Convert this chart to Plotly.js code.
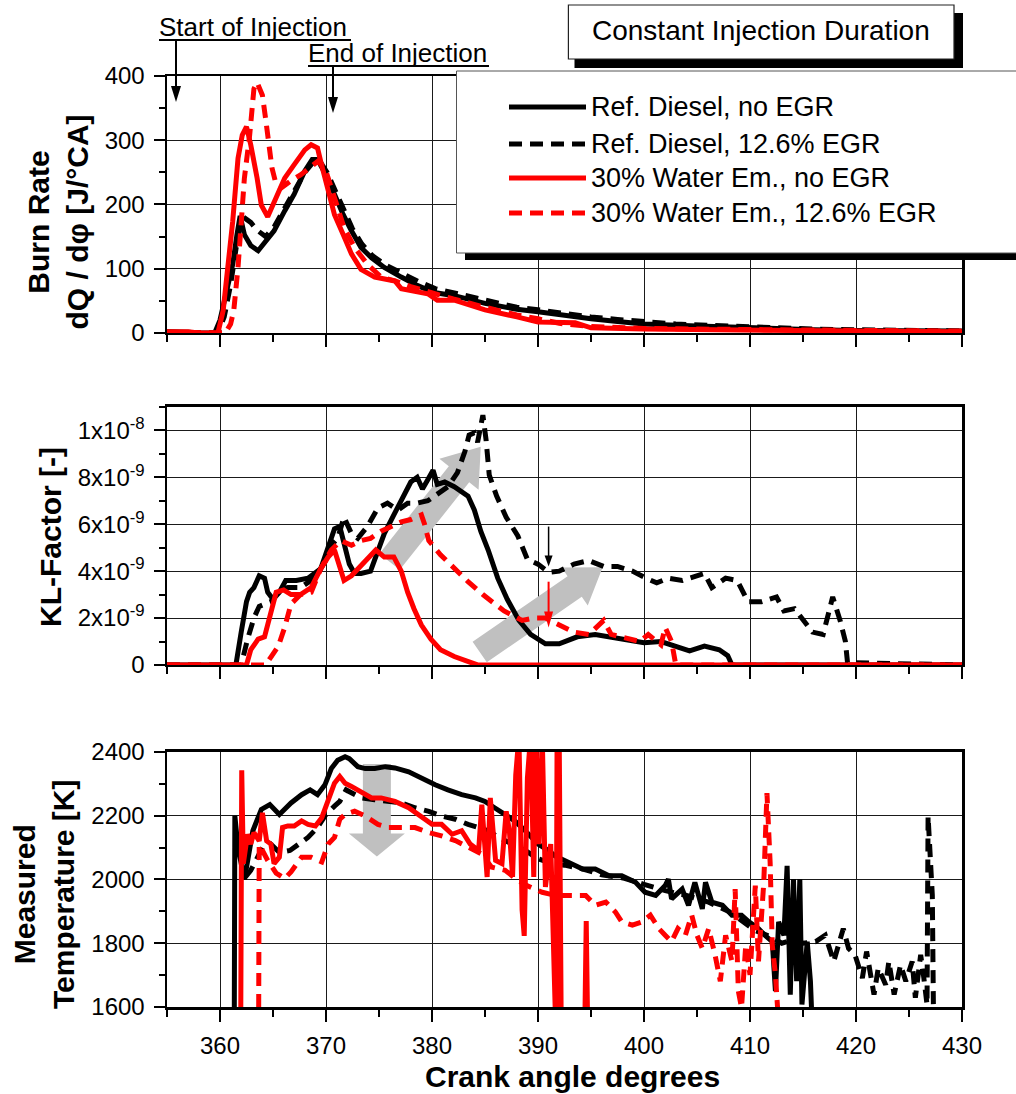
<!DOCTYPE html>
<html>
<head>
<meta charset="utf-8">
<script src="https://cdn.plot.ly/plotly-3.0.1.min.js"></script>
<style>html,body{margin:0;padding:0;background:#fff}</style>
</head>
<body>
<div id="chart" style="width:1016px;height:1094px"></div>
<script>
// ---------------- DATA ----------------
const seriesNames = ["Ref. Diesel, no EGR", "Ref. Diesel, 12.6% EGR", "30% Water Em., no EGR", "30% Water Em., 12.6% EGR"];

// Burn rate [J/°CA]
const brX_refNoEgr = [355,356,357,358,359.5,360.0,360.6,361.2,361.6,361.9,362.3,362.9,363.6,364.3,365.1,366.1,367.0,368.0,368.7,369.2,370.0,370.8,371.6,372.4,373.3,374.3,375.5,377.1,378.6,380.2,382.1,385,388,390,392.5,395,397.5,400,405,410,416,420,425,430];
const brY_refNoEgr = [2,2,1,0,0,20,61,107,153,182,153,136,128,143,159,190,216,252,270,270,246,216,185,159,133,117,102,87,74,63,58,46,37,33,27,22,18,14,11,8,5,4,3,3];
const brX_refEgr = [355,357,359.8,360.4,361.0,361.5,361.9,362.4,362.9,363.5,364.3,365.1,366.1,367.0,368.0,368.8,369.4,370.1,370.9,371.7,372.5,373.4,374.4,375.6,377.2,378.7,380.3,382.1,385,388,390,392.5,395,397.5,400,403,406,410,413,416,420,425,430];
const brY_refEgr = [1,1,0,25,75,130,170,178,172,160,150,165,195,222,250,266,268,250,220,190,162,138,120,106,92,80,69,62,50,40,36,30,25,21,17,14,12,9,8,6,5,4,3];
const brX_waterNoEgr = [355,357,358,359.8,360.3,360.6,361.2,361.7,362.1,362.5,362.9,363.5,363.9,364.5,365.1,366.1,367.0,368.0,368.6,369.2,369.5,370.2,370.8,371.6,372.4,373.3,374.6,376.5,377.1,379.6,380.5,382.1,385,388,390,393.5,395,400,410,420,430];
const brY_waterNoEgr = [2,2,0,0,35,81,174,272,308,321,293,241,199,181,204,241,262,285,293,288,267,226,184,154,123,99,87,81,69,61,51,51,36,25,17,16,8,6,4,3,2];
const brX_waterEgr = [355,357,360.5,361.0,361.3,361.7,362.0,362.3,362.8,363.2,363.5,364.0,364.3,364.6,364.9,365.3,365.8,366.7,367.6,368.6,369.2,369.9,370.5,371.1,371.7,372.7,373.9,375.2,376.5,378,380,382,385,388,390,392,395,400,405,410,420,430];
const brY_waterEgr = [1,0,0,14,35,102,164,241,308,380,390,370,334,298,257,231,226,237,246,259,267,257,226,195,164,133,107,87,81,72,62,53,40,28,22,15,10,7,6,5,4,3];

// KL-Factor [-]
const klX_refNoEgr = [355,361.5,362.0,362.5,362.8,363.2,363.7,364.2,364.5,365.0,365.6,366.2,367.2,368.3,369.5,370.2,370.8,371.3,371.7,372.2,372.7,373.3,374.2,374.9,375.5,376.4,377.4,378.0,378.6,379.1,379.6,380.1,380.5,381.2,382.1,382.7,383.4,384.0,384.6,385.3,386.2,387.1,388.2,389.3,390.7,392.0,393.7,395.4,397.2,398.9,400,401.6,403.0,404.3,405.7,407.1,407.9,408.3,430];
const klY_refNoEgr = [0,0,1.4e-9,2.7e-9,3.1e-9,3.3e-9,3.8e-9,3.7e-9,3.1e-9,2.8e-9,3.1e-9,3.6e-9,3.6e-9,3.7e-9,4.1e-9,5.0e-9,5.8e-9,5.9e-9,5.1e-9,4.3e-9,3.9e-9,3.9e-9,4.0e-9,4.9e-9,5.6e-9,6.4e-9,7.3e-9,7.8e-9,8.0e-9,7.5e-9,7.9e-9,8.3e-9,7.7e-9,7.8e-9,7.6e-9,7.4e-9,7.2e-9,6.6e-9,5.7e-9,4.9e-9,3.7e-9,2.8e-9,1.9e-9,1.3e-9,0.9e-9,0.9e-9,1.2e-9,1.3e-9,1.15e-9,1.0e-9,0.95e-9,1.0e-9,0.8e-9,0.6e-9,0.8e-9,0.65e-9,0.4e-9,0,0];
const klX_refEgr = [355,362.0,362.6,363.2,363.7,364.2,364.8,365.6,366.4,367.6,368.9,369.9,370.5,371.1,371.7,372.4,373.0,373.9,374.9,375.8,376.8,377.7,378.6,379.6,380.5,381.5,382.4,383.1,383.5,384.0,384.3,384.8,385.1,385.4,386.1,387.0,388.1,389.0,390.0,391.0,392.0,393.4,394.8,396.2,397.5,398.9,400.2,401.2,402.3,403.6,405.7,406.4,407.7,408.8,409.8,411.1,412.5,413.2,414.2,414.9,415.9,416.9,417.8,418.5,419.0,419.2,430];
const klY_refEgr = [0,0,1.1e-9,2.0e-9,2.5e-9,2.6e-9,2.7e-9,3.2e-9,3.3e-9,3.3e-9,3.7e-9,4.4e-9,5.1e-9,5.4e-9,6.3e-9,5.6e-9,5.4e-9,5.9e-9,6.7e-9,6.9e-9,6.6e-9,6.9e-9,6.9e-9,7.0e-9,7.3e-9,7.6e-9,8.2e-9,9.1e-9,9.8e-9,9.9e-9,9.5e-9,10.65e-9,9.6e-9,8.1e-9,7.2e-9,6.3e-9,5.5e-9,4.5e-9,4.3e-9,3.95e-9,4.0e-9,4.3e-9,4.45e-9,4.2e-9,4.2e-9,4.0e-9,3.7e-9,3.5e-9,3.7e-9,3.6e-9,3.9e-9,3.3e-9,3.7e-9,3.6e-9,2.7e-9,2.7e-9,2.9e-9,2.3e-9,2.4e-9,2.0e-9,1.4e-9,1.3e-9,2.9e-9,1.9e-9,1.0e-9,0.1e-9,0];
const klX_waterNoEgr = [355,362.5,362.9,363.6,364.2,364.8,365.3,366.0,366.7,367.6,368.6,369.5,370.2,370.8,371.3,371.7,372.4,373.0,373.9,374.7,375.5,376.4,377.1,377.7,378.3,379.0,379.9,380.8,382.1,383.4,384.3,430];
const klY_waterNoEgr = [0,0,0.65e-9,1.1e-9,1.2e-9,2.2e-9,3.1e-9,3.2e-9,3.0e-9,3.0e-9,3.3e-9,4.1e-9,4.6e-9,4.9e-9,4.1e-9,3.6e-9,3.8e-9,4.1e-9,4.5e-9,4.9e-9,4.6e-9,4.6e-9,4.0e-9,3.1e-9,2.4e-9,1.7e-9,1.1e-9,0.65e-9,0.36e-9,0.15e-9,0,0];
const klX_waterEgr = [355,364.3,364.9,365.5,366.1,366.7,367.6,368.6,369.5,370.5,371.4,372.4,373.3,374.2,375.2,376.1,377.1,378.0,379.0,379.3,379.7,380.8,382.1,383.4,384.8,386.8,388.5,389.6,390.7,392.0,393.4,394.8,396.2,396.9,398.2,399.6,400.4,401.6,402.0,402.6,403.0,430];
const klY_waterEgr = [0,0,0.4e-9,0.8e-9,1.6e-9,2.6e-9,3.0e-9,3.1e-9,4.1e-9,4.9e-9,5.3e-9,5.1e-9,5.3e-9,5.4e-9,5.7e-9,5.9e-9,6.1e-9,6.2e-9,6.4e-9,6.0e-9,5.3e-9,4.7e-9,4.1e-9,3.55e-9,3.0e-9,2.3e-9,1.9e-9,2.0e-9,2.0e-9,1.7e-9,1.4e-9,1.3e-9,1.9e-9,1.3e-9,1.15e-9,1.0e-9,1.3e-9,0.86e-9,1.6e-9,1.0e-9,0,0];

// Measured temperature [K]
const tX_refNoEgr = [361.35,361.4,361.7,362.3,363.1,363.9,364.7,365.6,366.7,367.7,368.5,369.2,369.9,370.5,371.1,371.8,372.2,373.0,373.7,374.6,375.6,376.5,377.8,379.0,380.3,381.5,382.8,384.1,385.0,385.9,386.9,387.8,388.8,390.0,391.0,391.6,392.9,394.2,395.4,396.7,397.9,399.2,400.1,401.1,402.0,402.3,402.6,403.6,404.2,404.8,405.5,405.8,406.4,407.4,408.3,409.2,409.9,410.8,411.4,412.1,412.4,412.7,413.2,413.5,413.8,414.1,414.4,414.7,414.9,415.4,415.7,415.8];
const tY_refNoEgr = [1600,2200,2100,2000,2153,2220,2235,2204,2240,2266,2281,2266,2297,2348,2374,2385,2379,2354,2348,2348,2354,2350,2338,2318,2297,2281,2266,2256,2245,2225,2204,2184,2153,2111,2091,2074,2053,2033,2033,2012,2012,1991,1960,1950,1981,2001,1939,1970,1919,1991,1908,1991,1929,1919,1888,1888,1867,1846,1825,1805,1650,1867,1825,2043,1639,2001,1681,2001,1608,1805,1681,1598];
const tX_refEgr = [362.4,362.9,363.4,364.0,364.8,365.6,366.6,367.4,368.3,369.2,370.0,370.8,371.3,371.9,372.4,373.3,374.6,375.9,377.1,378.4,379.7,380.9,382.2,383.4,384.7,385.3,386.3,387.5,388.8,390.0,391.3,392.5,394,396,398,400,402,404,406,408,410.5,412,413,414,415,416.2,417.1,417.9,418.8,419.3,419.9,420.6,421.0,421.7,422.1,422.8,423.1,423.6,424.2,424.7,425.3,425.6,426.1,426.4,426.7,426.8,427.2,427.3];
const tY_refEgr = [2008,2029,2060,2101,2111,2085,2091,2111,2132,2163,2204,2230,2245,2281,2271,2256,2250,2245,2240,2225,2214,2199,2189,2173,2158,2153,2132,2111,2091,2065,2050,2045,2035,2015,2005,1985,1965,1950,1930,1900,1840,1820,1800,1810,1800,1805,1825,1743,1846,1784,1764,1691,1774,1639,1722,1670,1743,1639,1732,1681,1743,1629,1764,1691,1608,2198,1950,1608];
const tX_waterNoEgr = [361.95,362.05,362.2,362.6,362.9,363.2,363.7,364.0,364.4,364.8,365.1,365.6,365.9,366.4,367.0,367.7,368.3,369.0,369.6,370.2,370.8,371.3,371.8,372.4,373.3,374.3,375.2,376.5,377.8,379.0,380.0,380.9,381.9,382.8,383.6,384.4,384.7,385.2,385.5,386.0,386.6,387.0,387.3,387.6,387.9,388.2,388.5,388.7,389.0,389.3,389.6,389.8,390.1,390.4,390.7,391.2,391.5,391.7,391.8,392.0,392.2,393,394.4,394.55,394.7,396];
const tY_waterNoEgr = [1500,2343,2050,2142,2111,2147,2121,2209,2121,2111,2050,2070,2163,2168,2168,2184,2173,2168,2194,2245,2302,2323,2302,2292,2276,2256,2256,2245,2225,2199,2173,2173,2142,2153,2111,2091,2235,2008,2256,2060,2050,2214,2153,2008,2328,2450,1905,1823,2318,2450,2008,2450,2111,2450,1977,2111,1700,1500,2450,2450,1500,1500,1500,1870,1500,1500];
const tX_waterEgr = [363.65,363.7,364.5,365.3,366.1,366.7,367.7,368.6,369.6,370.2,370.8,371.3,371.8,372.7,373.7,374.9,375.9,377.1,378.4,379.7,380.9,382.2,383.4,384.7,385.6,386.9,388,389,390.4,391.6,392.9,394.5,395.4,396.4,397.3,397.9,398.9,399.8,400.6,401.4,402.0,402.6,403.2,403.9,404.5,405.0,405.5,406.1,406.7,407.2,407.7,408.3,408.6,408.9,409.2,409.6,410.0,410.5,410.8,411.3,411.6,411.9,412.1,412.4,412.6];
const tY_waterEgr = [1600,2110,2060,2020,2003,2024,2070,2070,2055,2111,2132,2189,2204,2214,2199,2173,2163,2163,2163,2147,2137,2122,2101,2080,2039,2029,2000,1980,1960,1950,1950,1950,1919,1929,1898,1867,1857,1867,1888,1846,1825,1805,1846,1825,1888,1825,1784,1846,1764,1681,1825,1743,1970,1650,1598,1795,1701,1981,1743,1991,2271,2053,1795,1701,1598];

// Axis tick labels
const xTickVals = [360,370,380,390,400,410,420,430];
const xTickText = ["360","370","380","390","400","410","420","430"];
const klTickVals = [0,2e-9,4e-9,6e-9,8e-9,1e-8];
const klTickText = ["0","2x10<sup>-9</sup>","4x10<sup>-9</sup>","6x10<sup>-9</sup>","8x10<sup>-9</sup>","1x10<sup>-8</sup>"];

// ---------------- LAYOUT GEOMETRY ----------------
const FONT = "Liberation Sans, Arial, Helvetica, sans-serif";
const W = 1016, H = 1094, ML = 167, MR = 54, MT = 76, MB = 87;
const PW = W - ML - MR, PH = H - MT - MB;
const X_RANGE = [355, 430];
const Y1_RANGE = [0, 400], Y2_RANGE = [0, 1.1e-8], Y3_RANGE = [1600, 2400];
const DOM1 = [0.724, 1], DOM2 = [0.3674, 0.6445], DOM3 = [0, 0.2739];

const xToPx = d => ML + (d - X_RANGE[0]) / (X_RANGE[1] - X_RANGE[0]) * PW;
const pxToX = p => X_RANGE[0] + (p - ML) / PW * (X_RANGE[1] - X_RANGE[0]);
function yBounds(dom){ return [MT + (1 - dom[1]) * PH, MT + (1 - dom[0]) * PH]; }
function yToPx(v, dom, rng){ const [t,b] = yBounds(dom); return b - (v - rng[0]) / (rng[1] - rng[0]) * (b - t); }
function pxToY(p, dom, rng){ const [t,b] = yBounds(dom); return rng[0] + (b - p) / (b - t) * (rng[1] - rng[0]); }
const pX = px => (px - ML) / PW;
const pY = py => (H - MB - py) / PH;

function blockArrow(tail, tip, dom, rng, bw, hw, hl, xref, yref){
  const t = [xToPx(tail[0]), yToPx(tail[1], dom, rng)];
  const h = [xToPx(tip[0]), yToPx(tip[1], dom, rng)];
  const dx = h[0]-t[0], dy = h[1]-t[1], len = Math.hypot(dx, dy);
  const ux = dx/len, uy = dy/len, nx = -uy, ny = ux;
  const b = [h[0]-ux*hl, h[1]-uy*hl];
  const pts = [[t[0]+nx*bw,t[1]+ny*bw],[b[0]+nx*bw,b[1]+ny*bw],[b[0]+nx*hw,b[1]+ny*hw],h,
               [b[0]-nx*hw,b[1]-ny*hw],[b[0]-nx*bw,b[1]-ny*bw],[t[0]-nx*bw,t[1]-ny*bw]];
  const path = pts.map((p,i) => (i?'L':'M') + pxToX(p[0]).toFixed(5) + ',' + pxToY(p[1], dom, rng).toFixed(14)).join(' ') + ' Z';
  return {type:'path', xref, yref, path, fillcolor:'#c0c0c0', line:{width:0}, layer:'between'};
}
function vArrowPx(x, y0, tip, color, lw, headLen, headHalf){
  return [
    {type:'line', xref:'paper', yref:'paper', x0:pX(x), x1:pX(x), y0:pY(y0), y1:pY(tip-headLen+1), line:{color, width:lw}},
    {type:'path', xref:'paper', yref:'paper', fillcolor:color, line:{width:0},
     path:`M ${pX(x)},${pY(tip)} L ${pX(x-headHalf)},${pY(tip-headLen)} L ${pX(x+headHalf)},${pY(tip-headLen)} Z`}
  ];
}
function rectPx(x0,y0,x1,y1,fill,lineColor,lw){
  return {type:'rect', xref:'paper', yref:'paper', x0:pX(x0), x1:pX(x1), y0:pY(y1), y1:pY(y0),
          fillcolor:fill, line:{color:lineColor, width:lw}, layer:'above'};
}

// ---------------- TRACES ----------------
const DASH = '13px,8px';
const styles = [
  {color:'#000000', dash:'solid'},
  {color:'#000000', dash:DASH},
  {color:'#ff0000', dash:'solid'},
  {color:'#ff0000', dash:DASH}
];
function tr(x, y, i, xa, ya){
  return {x, y, xaxis:xa, yaxis:ya, type:'scatter', mode:'lines', name:seriesNames[i], showlegend:false,
          line:{color:styles[i].color, dash:styles[i].dash, width:5}};
}
const data = [
  tr(brX_refNoEgr, brY_refNoEgr, 0, 'x', 'y'),
  tr(brX_refEgr, brY_refEgr, 1, 'x', 'y'),
  tr(brX_waterNoEgr, brY_waterNoEgr, 2, 'x', 'y'),
  tr(brX_waterEgr, brY_waterEgr, 3, 'x', 'y'),
  tr(klX_refNoEgr, klY_refNoEgr, 0, 'x2', 'y2'),
  tr(klX_refEgr, klY_refEgr, 1, 'x2', 'y2'),
  tr(klX_waterNoEgr, klY_waterNoEgr, 2, 'x2', 'y2'),
  tr(klX_waterEgr, klY_waterEgr, 3, 'x2', 'y2'),
  tr(tX_refNoEgr, tY_refNoEgr, 0, 'x3', 'y3'),
  tr(tX_refEgr, tY_refEgr, 1, 'x3', 'y3'),
  tr(tX_waterNoEgr, tY_waterNoEgr, 2, 'x3', 'y3'),
  tr(tX_waterEgr, tY_waterEgr, 3, 'x3', 'y3')
];

// ---------------- AXES ----------------
const common = {showline:true, linewidth:2.5, linecolor:'#000', mirror:true, ticks:'outside', tickwidth:2,
  tickcolor:'#000', showgrid:true, gridcolor:'#1a1a1a', gridwidth:1, zeroline:false,
  tickfont:{family:FONT, size:24, color:'#000'}};
function xAxis(anchor, labels){
  return Object.assign({}, common, {domain:[0,1], range:X_RANGE, anchor, tickmode:'array',
    tickvals:xTickVals, ticktext:xTickText, ticklen:12, showticklabels:labels, ticklabelstandoff:4,
    minor:{dtick:5, tick0:355, ticklen:7, tickwidth:2, tickcolor:'#000', ticks:'outside', showgrid:false}});
}
const layout = {
  width:W, height:H, margin:{l:ML, r:MR, t:MT, b:MB, pad:0},
  paper_bgcolor:'#fff', plot_bgcolor:'#fff', showlegend:false,
  font:{family:FONT, color:'#000'},
  xaxis: xAxis('y', false),
  xaxis2: Object.assign(xAxis('y2', false), {matches:'x'}),
  xaxis3: Object.assign(xAxis('y3', true), {matches:'x'}),
  yaxis: Object.assign({}, common, {domain:DOM1, range:Y1_RANGE, anchor:'x', dtick:100, tick0:0, ticklen:11, ticklabelstandoff:4,
    minor:{dtick:50, tick0:0, ticklen:6, tickwidth:2, tickcolor:'#000', ticks:'outside', showgrid:false}}),
  yaxis2: Object.assign({}, common, {domain:DOM2, range:Y2_RANGE, anchor:'x2', tickmode:'array', tickvals:klTickVals,
    ticktext:klTickText, ticklen:11, ticklabelstandoff:4,
    minor:{dtick:1e-9, tick0:0, ticklen:6, tickwidth:2, tickcolor:'#000', ticks:'outside', showgrid:false}}),
  yaxis3: Object.assign({}, common, {domain:DOM3, range:Y3_RANGE, anchor:'x3', dtick:200, tick0:1600, ticklen:11, ticklabelstandoff:4,
    minor:{dtick:100, tick0:1600, ticklen:6, tickwidth:2, tickcolor:'#000', ticks:'outside', showgrid:false}})
};

// ---------------- SHAPES ----------------
const shapes = [];
// gray block arrows
shapes.push(blockArrow([376.0, 4.4e-9], [384.6, 9.3e-9], DOM2, Y2_RANGE, 13, 25, 35, 'x2', 'y2'));
shapes.push(blockArrow([384.5, 0.55e-9], [396.1, 4.17e-9], DOM2, Y2_RANGE, 12.5, 23, 34, 'x2', 'y2'));
shapes.push(blockArrow([374.8, 2362], [374.8, 2072], DOM3, Y3_RANGE, 14, 28, 23, 'x3', 'y3'));
// small KL arrows
shapes.push(...vArrowPx(xToPx(391.0), yToPx(5.9e-9, DOM2, Y2_RANGE), yToPx(4.2e-9, DOM2, Y2_RANGE), '#000', 1.5, 11, 4));
shapes.push(...vArrowPx(xToPx(391.0), yToPx(3.55e-9, DOM2, Y2_RANGE), yToPx(1.6e-9, DOM2, Y2_RANGE), '#ff0000', 2, 16, 4.5));
// injection arrows and underlines
shapes.push(...vArrowPx(176, 40, 102, '#000', 2, 16, 5));
shapes.push(...vArrowPx(333, 66, 113, '#000', 2, 16, 5));
shapes.push({type:'line', xref:'paper', yref:'paper', x0:pX(159), x1:pX(351), y0:pY(40), y1:pY(40), line:{color:'#000', width:2}});
shapes.push({type:'line', xref:'paper', yref:'paper', x0:pX(308), x1:pX(489), y0:pY(66), y1:pY(66), line:{color:'#000', width:2}});
// legend box with shadow
shapes.push(rectPx(465, 79, 1040, 260, '#000', '#000', 0));
shapes.push(rectPx(456.5, 71, 1030, 253, '#fff', '#555', 1));
// "Constant Injection Duration" box with shadow
shapes.push(rectPx(574.5, 13, 963, 68, '#000', '#000', 0));
shapes.push(rectPx(568.4, 5, 954, 59, '#fff', '#222', 1.2));
// legend line samples
const legendRows = [107, 144, 178, 213];
legendRows.forEach((ry, i) => {
  shapes.push({type:'line', xref:'paper', yref:'paper', x0:pX(509), x1:pX(586), y0:pY(ry), y1:pY(ry),
    line:{color:styles[i].color, width:5, dash:styles[i].dash}, layer:'above'});
});
layout.shapes = shapes;

// ---------------- ANNOTATIONS ----------------
const ann = [];
const titleFont = {family:FONT, size:30, color:'#000'};
ann.push({xref:'paper', yref:'paper', x:pX(57.5), y:pY(222), text:'<b>Burn Rate<br>dQ / dφ [J/°CA]</b>', textangle:-90,
  showarrow:false, font:titleFont, xanchor:'center', yanchor:'middle'});
ann.push({xref:'paper', yref:'paper', x:pX(50), y:pY(537), text:'<b>KL-Factor [-]</b>', textangle:-90,
  showarrow:false, font:titleFont, xanchor:'center', yanchor:'middle'});
ann.push({xref:'paper', yref:'paper', x:pX(44), y:pY(895), text:'<b>Measured<br>Temperature [K]</b>', textangle:-90,
  showarrow:false, font:titleFont, xanchor:'center', yanchor:'middle'});
ann.push({xref:'paper', yref:'paper', x:pX(572), y:pY(1076), text:'<b>Crank angle degrees</b>',
  showarrow:false, font:titleFont, xanchor:'center', yanchor:'middle'});
ann.push({xref:'paper', yref:'paper', x:pX(157), y:pY(27), text:'Start of Injection',
  showarrow:false, font:{family:FONT, size:26, color:'#000'}, xanchor:'left', yanchor:'middle'});
ann.push({xref:'paper', yref:'paper', x:pX(306), y:pY(53), text:'End of Injection',
  showarrow:false, font:{family:FONT, size:26, color:'#000'}, xanchor:'left', yanchor:'middle'});
ann.push({xref:'paper', yref:'paper', x:pX(761), y:pY(31), text:'Constant Injection Duration',
  showarrow:false, font:{family:FONT, size:28, color:'#000'}, xanchor:'center', yanchor:'middle'});
legendRows.forEach((ry, i) => {
  ann.push({xref:'paper', yref:'paper', x:pX(589), y:pY(ry), text:seriesNames[i],
    showarrow:false, font:{family:FONT, size:27, color:'#000'}, xanchor:'left', yanchor:'middle'});
});
layout.annotations = ann;

Plotly.newPlot('chart', data, layout, {staticPlot:true, displayModeBar:false});
</script>
</body>
</html>
